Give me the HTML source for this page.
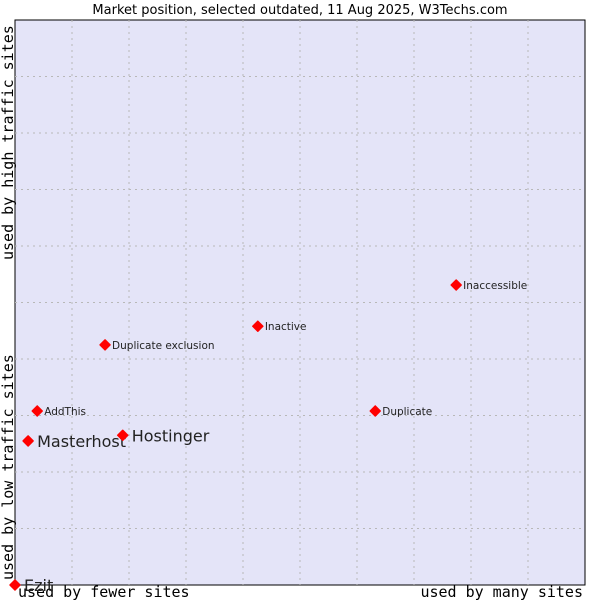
<!DOCTYPE html>
<html><head><meta charset="utf-8"><style>
body{margin:0;background:#fff;width:600px;height:600px;overflow:hidden}
svg{display:block}
</style></head><body>
<svg id="chart" width="600" height="600" xmlns="http://www.w3.org/2000/svg">
<text x="300" y="14" text-anchor="middle" font-family="DejaVu Sans, sans-serif" font-size="13" fill="#000">Market position, selected outdated, 11 Aug 2025, W3Techs.com</text>
<rect x="15" y="20" width="570" height="565" fill="#e4e4f8" stroke="#000" stroke-width="1"/>
<g id="grid"></g>
<text x="18" y="597" font-family="DejaVu Sans Mono, monospace" font-size="15" fill="#000">used by fewer sites</text>
<text x="583" y="597" text-anchor="end" font-family="DejaVu Sans Mono, monospace" font-size="15" fill="#000">used by many sites</text>
<text transform="translate(13,580) rotate(-90)" font-family="DejaVu Sans Mono, monospace" font-size="15" fill="#000">used by low traffic sites</text>
<text transform="translate(13,260) rotate(-90)" font-family="DejaVu Sans Mono, monospace" font-size="15" fill="#000">used by high traffic sites</text>
<g id="points"></g>
</svg>
<script>
const names = ["Ezit","Masterhost","AddThis","Hostinger","Duplicate exclusion","Inactive","Duplicate","Inaccessible"];
const xValues = [0,2.3,3.9,18.9,15.8,42.6,63.2,77.4];
const yValues = [0,25.5,30.8,26.5,42.5,45.8,30.8,53.1];
const bigLabel = [true,true,false,true,false,false,false,false];
const NS="http://www.w3.org/2000/svg";
const L=15,R=585,T=20,B=585;
function xs(v){return L+v/100*(R-L);}
function ys(v){return B-v/100*(B-T);}
const grid=document.getElementById('grid');
for(let i=1;i<10;i++){
  const gx=document.createElementNS(NS,'line');
  
  
  gx.setAttribute('x1',xs(i*10));gx.setAttribute('x2',xs(i*10));gx.setAttribute('y1',T);gx.setAttribute('y2',B);
  gx.setAttribute('stroke','#b8b8b8');gx.setAttribute('stroke-dasharray','2,4');
  grid.appendChild(gx);
  const gy=document.createElementNS(NS,'line');
  
  
  gy.setAttribute('y1',ys(i*10));gy.setAttribute('y2',ys(i*10));gy.setAttribute('x1',L);gy.setAttribute('x2',R);
  gy.setAttribute('stroke','#b8b8b8');gy.setAttribute('stroke-dasharray','2,4');
  grid.appendChild(gy);
}
const pts=document.getElementById('points');
names.forEach((n,i)=>{
  const cx=xs(xValues[i]),cy=ys(yValues[i]);
  const d=document.createElementNS(NS,'path');
  
  
  d.setAttribute('d',`M${cx},${cy-5}L${cx+5},${cy}L${cx},${cy+5}L${cx-5},${cy}Z`);
  d.setAttribute('fill','#ff0000');
  d.setAttribute('stroke','#ff0000');
  d.setAttribute('stroke-width','1.5');
  d.setAttribute('stroke-linejoin','round');
  pts.appendChild(d);
  const t=document.createElementNS(NS,'text');
  
  
  t.setAttribute('x',cx+(bigLabel[i]?9:7));
  t.setAttribute('y',cy+(bigLabel[i]?6:4));
  t.setAttribute('font-family','DejaVu Sans, sans-serif');
  t.setAttribute('font-size',bigLabel[i]?'16':'10.5');
  t.setAttribute('fill','#222');
  t.textContent=n;
  pts.appendChild(t);
});
</script>
</body></html>
